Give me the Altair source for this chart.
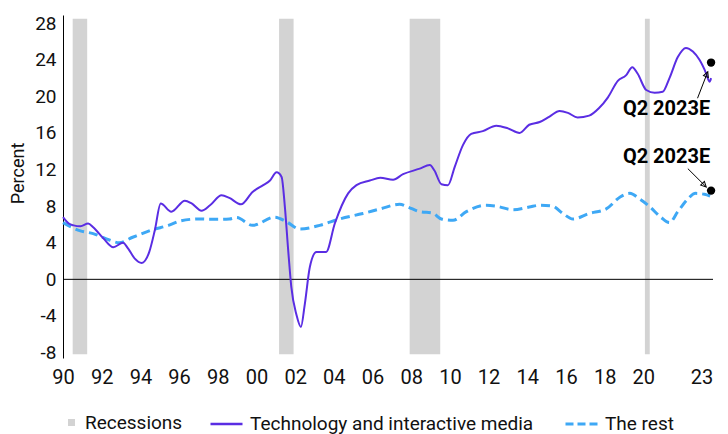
import altair as alt
import pandas as pd

# ---- data ----
tech_years = [1990.0, 1990.3, 1990.55, 1990.9, 1991.3, 1991.56, 1992.1, 1992.6, 1993.1, 1993.37,
              1993.7, 1994.07, 1994.46, 1994.75, 1995.05, 1995.6, 1996.3, 1996.65, 1997.16, 1997.6,
              1998.2, 1998.6, 1999.2, 1999.8, 2000.35, 2000.7, 2001.04, 2001.3, 2001.47, 2001.64,
              2001.8, 2002.07, 2002.3, 2002.5, 2002.76, 2003.1, 2003.6, 2004.05, 2004.74, 2005.17,
              2005.86, 2006.4, 2007.06, 2007.58, 2008.44, 2008.96, 2009.2, 2009.56, 2009.9, 2010.25,
              2010.68, 2011.1, 2011.7, 2012.4, 2013.0, 2013.6, 2014.1, 2014.64, 2015.15, 2015.67,
              2016.1, 2016.6, 2017.2, 2017.7, 2018.17, 2018.68, 2019.1, 2019.43, 2019.7, 2020.15,
              2020.58, 2021.0, 2021.35, 2021.78, 2022.2, 2022.56, 2022.9, 2023.25, 2023.42, 2023.5]
tech_values = [6.8, 6.1, 5.9, 5.8, 6.1, 5.7, 4.45, 3.5, 4.0, 3.35,
               2.3, 1.8, 3.0, 5.4, 8.3, 7.4, 8.6, 8.3, 7.5, 8.1,
               9.2, 8.9, 8.2, 9.55, 10.3, 10.8, 11.7, 11.2, 7.9, 3.2,
               -0.8, -3.9, -5.2, -2.7, 1.35, 3.0, 3.0, 6.1, 9.4, 10.3,
               10.8, 11.1, 10.9, 11.5, 12.1, 12.5, 11.9, 10.4, 10.3, 12.3,
               14.7, 15.9, 16.2, 16.8, 16.5, 16.0, 16.9, 17.2, 17.8, 18.4,
               18.2, 17.7, 17.9, 18.7, 19.9, 21.7, 22.3, 23.2, 22.5, 20.7,
               20.4, 20.5, 22.0, 24.3, 25.3, 24.9, 24.0, 22.5, 21.6, 22.0]

rest_years = [1990.0, 1990.9, 1991.56, 1992.4, 1992.9, 1993.6, 1994.6, 1995.45, 1996.1, 1997.0,
              1997.8, 1998.6, 1998.97, 1999.8, 2000.95, 2001.55, 2002.24, 2003.27, 2004.3, 2005.5,
              2006.4, 2007.4, 2007.83, 2008.44, 2009.1, 2009.56, 2010.16, 2010.85, 2011.88, 2012.4,
              2013.26, 2014.1, 2014.64, 2015.3, 2015.84, 2016.36, 2017.2, 2018.08, 2018.8, 2019.3,
              2019.8, 2020.3, 2020.9, 2021.35, 2021.78, 2022.3, 2022.7, 2023.16, 2023.45]
rest_values = [6.2, 5.3, 5.0, 4.3, 4.0, 4.6, 5.4, 5.9, 6.4, 6.6,
               6.56, 6.6, 6.75, 5.9, 6.8, 6.3, 5.5, 5.9, 6.6, 7.2,
               7.7, 8.2, 7.9, 7.4, 7.25, 6.6, 6.45, 7.4, 8.1, 8.0,
               7.6, 7.9, 8.1, 8.0, 7.2, 6.6, 7.2, 7.7, 9.0, 9.4,
               8.8, 8.0, 6.8, 6.2, 7.4, 8.8, 9.4, 9.3, 9.1]

rec_start = [1990.5, 2001.17, 2007.92, 2020.08]
rec_end = [1991.25, 2001.92, 2009.5, 2020.33]
rec_low = [-8.2, -8.2, -8.2, -8.2]
rec_high = [28.5, 28.5, 28.5, 28.5]

x_ticks = [1990, 1992, 1994, 1996, 1998, 2000, 2002, 2004, 2006, 2008,
           2010, 2012, 2014, 2016, 2018, 2020, 2023]
y_ticks = [-8, -4, 0, 4, 8, 12, 16, 20, 24, 28]

ann_text = ["Q2 2023E", "Q2 2023E"]
ann_text_year = [2021.2, 2021.2]
ann_text_value = [18.6, 13.4]
ann_dot_year = [2023.5, 2023.5]
ann_dot_value = [23.7, 9.7]
arrow_from_year = [2022.8, 2022.3]
arrow_from_value = [19.8, 12.1]
arrow_to_year = [2023.33, 2023.25]
arrow_to_value = [22.7, 10.1]
arrow_angle = [21, 135]

TECH = "Technology and interactive media"
REST = "The rest"
PURPLE = "#5a2de3"
BLUE = "#3ea8f5"
GRAY = "#d3d3d3"
FONT = "Roboto"

tech_df = pd.DataFrame({"year": tech_years, "value": tech_values, "series": TECH})
rest_df = pd.DataFrame({"year": rest_years, "value": rest_values, "series": REST})
rec_df = pd.DataFrame({"start": rec_start, "end": rec_end, "lo": rec_low, "hi": rec_high,
                       "label": "Recessions"})
zero_df = pd.DataFrame({"y": [0]})
text_df = pd.DataFrame({"year": ann_text_year, "value": ann_text_value, "text": ann_text})
dot_df = pd.DataFrame({"year": ann_dot_year, "value": ann_dot_value})
arrow_df = pd.DataFrame({"x1": arrow_from_year, "y1": arrow_from_value,
                         "x2": arrow_to_year, "y2": arrow_to_value, "angle": arrow_angle})

x_scale = alt.Scale(domain=[1990, 2023.6], nice=False, zero=False)
y_scale = alt.Scale(domain=[-8.6, 28.9], nice=False, zero=False)

x_axis = alt.Axis(values=x_ticks, labelExpr="substring(toString(datum.value), 2)",
                  domain=False, ticks=False, grid=False, labelFontSize=20,
                  labelPadding=9, title=None, labelFlush=False, labelOverlap=False)
y_axis = alt.Axis(values=y_ticks, labelExpr="toString(datum.value)",
                  domain=True, domainColor="black", domainWidth=1,
                  ticks=False, grid=False, labelFontSize=19, labelPadding=7,
                  title="Percent", titleFontSize=18, titleFontWeight="normal",
                  titlePadding=7, titleY=158)


def X(field):
    return alt.X(field, scale=x_scale, axis=x_axis)


def Y(field):
    return alt.Y(field, scale=y_scale, axis=y_axis)


legend_common = dict(title=None, orient="none", padding=0, labelFontSize=19,
                     labelColor="#111", labelFont=FONT, labelLimit=0)

rects = alt.Chart(rec_df).mark_rect().encode(
    x=X("start:Q"), x2="end:Q", y=Y("lo:Q"), y2="hi:Q",
    color=alt.Color("label:N", scale=alt.Scale(domain=["Recessions"], range=[GRAY]),
                    legend=alt.Legend(legendX=-1, legendY=398, symbolType="square",
                                      symbolSize=49, labelOffset=4, symbolStrokeWidth=0,
                                      **legend_common)),
)

zero = alt.Chart(zero_df).mark_rule(color="black", strokeWidth=1).encode(y=Y("y:Q"))

tech = alt.Chart(tech_df).mark_line(strokeWidth=2, interpolate="monotone").encode(
    x=X("year:Q"), y=Y("value:Q"),
    color=alt.Color("series:N", scale=alt.Scale(domain=[TECH], range=[PURPLE]),
                    legend=alt.Legend(legendX=146, legendY=391.5, symbolType="stroke",
                                      symbolSize=1024, symbolStrokeWidth=2.5,
                                      labelOffset=6, **legend_common)),
)

rest = alt.Chart(rest_df).mark_line(strokeWidth=3, strokeDash=[9, 5],
                                    interpolate="monotone").encode(
    x=X("year:Q"), y=Y("value:Q"),
    color=alt.Color("series:N", scale=alt.Scale(domain=[REST], range=[BLUE]),
                    legend=alt.Legend(legendX=501, legendY=391, symbolType="stroke",
                                      symbolSize=1089, symbolStrokeWidth=3,
                                      symbolDash=[8, 4], labelOffset=5, **legend_common)),
)

dots = alt.Chart(dot_df).mark_point(filled=True, size=70, color="black", opacity=1).encode(
    x=X("year:Q"), y=Y("value:Q"))

texts = alt.Chart(text_df).mark_text(font=FONT, fontSize=20, fontWeight="bold",
                                     align="center", baseline="middle",
                                     color="black").encode(
    x=X("year:Q"), y=Y("value:Q"), text="text:N")

arrows = alt.Chart(arrow_df).mark_rule(color="black", strokeWidth=1).encode(
    x=X("x1:Q"), y=Y("y1:Q"), x2="x2:Q", y2="y2:Q")

heads = alt.Chart(arrow_df).mark_point(
    shape="M 0 0 L 0.55 1.1 L -0.55 1.1 Z", filled=False, size=90,
    color="black", strokeWidth=1, opacity=1).encode(
    x=X("x2:Q"), y=Y("y2:Q"), angle=alt.Angle("angle:Q", scale=None))

chart = alt.layer(rects, zero, rest, tech, arrows, heads, dots, texts).resolve_scale(
    color="independent"
).properties(
    width=650, height=343,
    autosize=alt.AutoSizeParams(type="none"),
    padding={"left": 55, "top": 7, "right": 7, "bottom": 80},
).configure(font=FONT).configure_view(stroke=None).configure_axis(
    labelColor="#111", titleColor="#111", labelFont=FONT, titleFont=FONT)

chart.save("out.html", embed_options={"renderer": "svg", "actions": False})
